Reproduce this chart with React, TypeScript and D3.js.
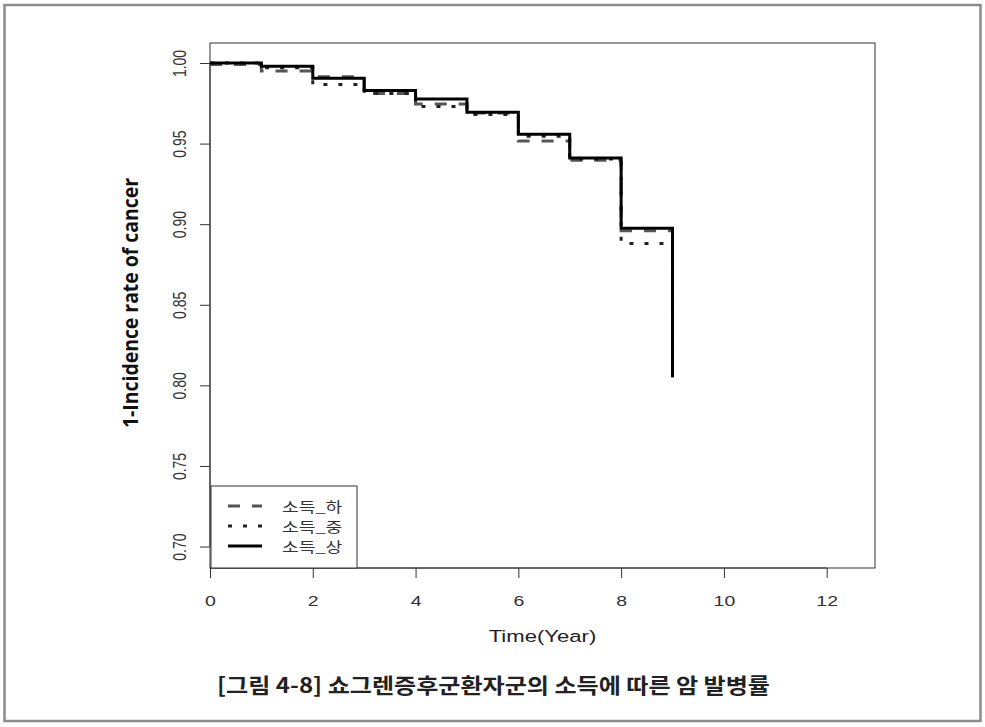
import * as d3 from "d3";
import { useEffect, useRef } from "react";

// follow-up years
const years = [0, 1, 2, 3, 4, 5, 6, 7, 8, 9];

// 1 - incidence by income group
const incomeLow = [0.999, 0.995, 0.9915, 0.981, 0.9746, 0.969, 0.9516, 0.9397, 0.896, 0.805];
const incomeMid = [1.0, 0.997, 0.9866, 0.981, 0.973, 0.968, 0.9545, 0.9405, 0.888, 0.805];
const incomeHigh = [1.0, 0.998, 0.9905, 0.983, 0.9777, 0.9695, 0.9558, 0.941, 0.8975, 0.805];

const xTicks = [0, 2, 4, 6, 8, 10, 12];
const yTicks = [0.7, 0.75, 0.8, 0.85, 0.9, 0.95, 1.0];
const legendLabels = ["소득_하", "소득_중", "소득_상"];

// the original R figure was stretched sideways when pasted into the report
const STRETCH = 1.3;

function App() {
    const ref = useRef<SVGSVGElement>(null);

    useEffect(() => {
        const svg = d3.select(ref.current);
        svg.selectAll("*").remove();

        const left = 210, right = 875, top = 43, bottom = 568;

        const x = d3.scaleLinear().domain([0, 12.94]).range([left, right]);
        const y = d3.scaleLinear().domain([0.6867, 1.0124]).range([bottom, top]);

        const tickFont = "'Liberation Sans', Arial, sans-serif";

        // outer frame
        svg.append("rect")
            .attr("x", 4.5).attr("y", 5).attr("width", 976).attr("height", 716)
            .attr("fill", "none").attr("stroke", "#8c8c8c").attr("stroke-width", 2.5);

        // x axis
        const xAxis = svg.append("g")
            .attr("transform", "translate(0," + bottom + ")")
            .call(d3.axisBottom(x).tickValues(xTicks).tickSize(10).tickFormat(d3.format("d")));
        xAxis.select(".domain").attr("stroke", "#333").attr("d", "M" + x(0) + ",0H" + x(12));
        xAxis.selectAll(".tick line").attr("stroke", "#333");
        xAxis.selectAll("text")
            .attr("y", null).attr("dy", null)
            .attr("transform", "translate(0,33) scale(" + STRETCH + ",1)")
            .attr("dominant-baseline", "central")
            .attr("font-family", tickFont).attr("font-size", 15).attr("fill", "#333");

        // y axis (labels rotated, R style)
        const yAxis = svg.append("g")
            .attr("transform", "translate(" + left + ",0)")
            .call(d3.axisLeft(y).tickValues(yTicks).tickSize(10).tickFormat(d3.format(".2f")));
        yAxis.select(".domain").attr("stroke", "#333").attr("d", "M0," + y(0.7) + "V" + y(1.0));
        yAxis.selectAll(".tick line").attr("stroke", "#333");
        yAxis.selectAll("text")
            .attr("x", null).attr("dy", null)
            .attr("transform", "translate(-31,0) scale(" + STRETCH + ",1) rotate(-90)")
            .attr("text-anchor", "middle")
            .attr("dominant-baseline", "central")
            .attr("font-family", tickFont).attr("font-size", 14).attr("fill", "#333");

        // plot box
        svg.append("rect")
            .attr("x", left).attr("y", top).attr("width", right - left).attr("height", bottom - top)
            .attr("fill", "none").attr("stroke", "#333").attr("stroke-width", 1);

        const series = [
            { values: incomeLow, color: "#555", dash: "12,12" },
            { values: incomeMid, color: "#222", dash: "4,11" },
            { values: incomeHigh, color: "#000", dash: null },
        ];

        const line = d3.line<number>()
            .x((d, i) => x(years[i]))
            .y((d) => y(d))
            .curve(d3.curveStepAfter);

        series.forEach((s) => {
            svg.append("path")
                .attr("d", line(s.values))
                .attr("fill", "none")
                .attr("stroke", s.color)
                .attr("stroke-width", 3)
                .attr("stroke-dasharray", s.dash);
        });

        // legend
        const lg = svg.append("g");
        lg.append("rect")
            .attr("x", left + 1).attr("y", 486).attr("width", 146).attr("height", bottom - 486)
            .attr("fill", "white").attr("stroke", "#333").attr("stroke-width", 1);
        series.forEach((s, i) => {
            const ly = 506 + i * 20;
            lg.append("line")
                .attr("x1", 228).attr("x2", 262).attr("y1", ly).attr("y2", ly)
                .attr("stroke", s.color).attr("stroke-width", 3)
                .attr("stroke-dasharray", s.dash);
            lg.append("text")
                .attr("transform", "translate(282," + ly + ") scale(" + STRETCH + ",1)")
                .attr("dominant-baseline", "central")
                .attr("font-family", "'Noto Sans CJK KR', sans-serif")
                .attr("font-size", 14).attr("fill", "#333")
                .text(legendLabels[i]);
        });

        // axis titles
        svg.append("text")
            .attr("transform", "translate(" + (left + right) / 2 + ",636) scale(" + STRETCH + ",1)")
            .attr("text-anchor", "middle")
            .attr("dominant-baseline", "central")
            .attr("font-family", tickFont).attr("font-size", 17).attr("fill", "#222")
            .text("Time(Year)");

        svg.append("text")
            .attr("transform", "translate(130,303) scale(" + STRETCH + ",1) rotate(-90)")
            .attr("text-anchor", "middle")
            .attr("dominant-baseline", "central")
            .attr("font-family", "'Open Sans', sans-serif")
            .attr("font-weight", "bold")
            .attr("font-size", 17).attr("fill", "#111")
            .attr("textLength", 250).attr("lengthAdjust", "spacingAndGlyphs")
            .text("1-Incidence rate of cancer");

        // caption
        svg.append("text")
            .attr("x", 217).attr("y", 693)
            .attr("font-family", "'Noto Sans CJK KR', sans-serif")
            .attr("font-weight", "bold")
            .attr("font-size", 21).attr("fill", "#222")
            .attr("textLength", 553).attr("lengthAdjust", "spacingAndGlyphs")
            .text("[그림 4-8] 쇼그렌증후군환자군의 소득에 따른 암 발병률");
    }, []);

    return (
        <svg ref={ref} width={985} height={727}
            style={{ position: "absolute", left: 0, top: 0, background: "white" }} />
    );
}

export default App;
